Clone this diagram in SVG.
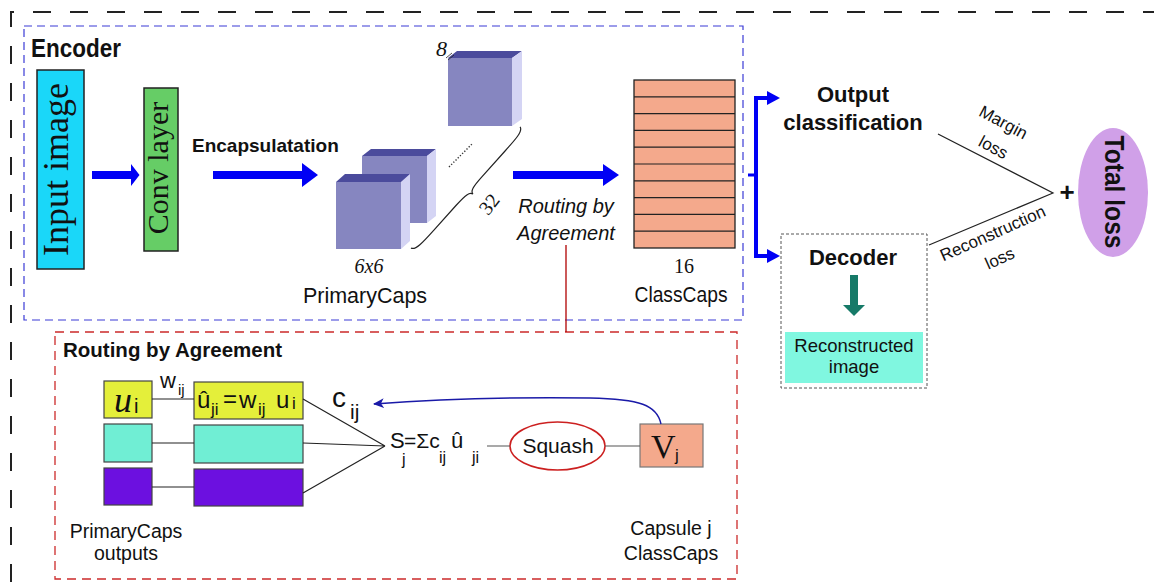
<svg xmlns="http://www.w3.org/2000/svg" width="1154" height="582" viewBox="0 0 1154 582">
<defs>
<style>
.sans{font-family:"Liberation Sans",Arial,sans-serif;fill:#111}
.bold{font-family:"Liberation Sans",Arial,sans-serif;font-weight:bold;fill:#111}
.ital{font-family:"Liberation Sans",Arial,sans-serif;font-style:italic;fill:#111}
.serif{font-family:"Liberation Serif","Times New Roman",serif;fill:#111}
.serifi{font-family:"Liberation Serif","Times New Roman",serif;font-style:italic;fill:#111}
.ln{stroke:#222;stroke-width:1.2;fill:none}
.blue{fill:#0000f5}
.box{stroke:#444;stroke-width:1.2}
.ctr{text-anchor:middle}
</style>
<marker id="bh" markerUnits="userSpaceOnUse" markerWidth="11" markerHeight="10" viewBox="0 0 11 10" refX="10" refY="5" orient="auto">
<path d="M0,0 L11,5 L0,10 L3,5 z" fill="#1a1aa8"/>
</marker>
</defs>
<rect width="1154" height="582" fill="#ffffff"/>

<!-- frames -->
<g id="frames" fill="none">
<path d="M11,582 V12 H1154" stroke="#222" stroke-width="2" stroke-dasharray="18 19"/>
<rect x="24" y="26" width="719" height="294" stroke="#3b3bd6" stroke-width="1.2" stroke-dasharray="8 5"/>
<rect x="55" y="332" width="682" height="247" stroke="#cc2a2a" stroke-width="1.3" stroke-dasharray="9 6"/>
</g>

<g id="encoder-label"><text x="31" y="57" class="bold" font-size="25" textLength="90" lengthAdjust="spacingAndGlyphs">Encoder</text></g>

<g id="input-image">
<rect x="37" y="70" width="47" height="199" fill="#1ad7f9" stroke="#222" stroke-width="1.5"/>
<text transform="translate(68,169.5) rotate(-90)" class="serif ctr" font-size="36">Input image</text>
</g>

<g id="conv-layer">
<rect x="144" y="88" width="34" height="163" fill="#66cd66" stroke="#222" stroke-width="1.5"/>
<text transform="translate(168,168) rotate(-90)" class="serif ctr" font-size="30">Conv layer</text>
</g>

<g id="encapsulation-label"><text x="192" y="152" class="bold" font-size="19">Encapsulatation</text></g>

<g id="primarycaps">
<!-- back cube -->
<polygon points="362,156 371,149 436,149 427,156" fill="#4b4b9c"/>
<polygon points="427,156 436,149 436,216 427,223" fill="#d4d4f4"/>
<rect x="362" y="156" width="65" height="67" fill="#8686c0"/>
<!-- front cube -->
<polygon points="336,182 345,174 410,174 401,182" fill="#4b4b9c"/>
<polygon points="401,182 410,174 410,241 401,249" fill="#d4d4f4"/>
<rect x="336" y="182" width="65" height="67" fill="#8686c0"/>
<!-- top cube -->
<polygon points="448,58 457,51 522,51 512,58" fill="#4b4b9c"/>
<polygon points="512,58 522,51 522,119 512,126" fill="#d4d4f4"/>
<rect x="448" y="58" width="64" height="68" fill="#8686c0"/>
<text x="436" y="56" class="serifi" font-size="22">8</text>
<path d="M446,58 L452,53 M448,60 L454,55" stroke="#222" stroke-width="0.8"/>
<path d="M449,167 L473,143" stroke="#333" stroke-width="1.4" stroke-dasharray="1.3 1.8"/>
<path transform="translate(411,248) rotate(-48)" d="M0,0 C1,5 12,5 28,5 L62,5 C76,5 81,6 81.5,10 C82,6 87,5 101,5 L135,5 C151,5 162,5 163,0" class="ln"/>
<text transform="translate(489,204) rotate(-52)" class="serif ctr" font-size="20" y="7">32</text>
<text x="369" y="273" class="serifi ctr" font-size="20">6x6</text>
<text x="365" y="303" class="sans ctr" font-size="21.5">PrimaryCaps</text>
</g>

<g id="routing-label">
<text x="566" y="213" class="ital ctr" font-size="20">Routing by</text>
<text x="566" y="240" class="ital ctr" font-size="20">Agreement</text>
</g>

<g id="classcaps">
<rect x="634" y="80" width="101" height="168" fill="#f4a98c" stroke="#222" stroke-width="1.3"/>
<path d="M634,96.8 H735 M634,113.6 H735 M634,130.4 H735 M634,147.2 H735 M634,164 H735 M634,180.8 H735 M634,197.6 H735 M634,214.4 H735 M634,231.2 H735" stroke="#222" stroke-width="1.2"/>
<text x="684" y="273" class="serif ctr" font-size="20">16</text>
<text x="681" y="302" class="sans ctr" font-size="21.5" textLength="93" lengthAdjust="spacingAndGlyphs">ClassCaps</text>
</g>

<g id="output-classification">
<text x="853" y="102" class="bold ctr" font-size="22">Output</text>
<text x="853" y="130" class="bold ctr" font-size="22">classification</text>
</g>

<g id="decoder">
<rect x="781" y="234" width="146" height="154" fill="none" stroke="#555" stroke-width="1" stroke-dasharray="3 2"/>
<text x="853" y="265" class="bold ctr" font-size="22">Decoder</text>
<rect x="850" y="275" width="8" height="31" fill="#167a68"/>
<polygon points="843,305 865,305 854,316" fill="#167a68"/>
</g>

<g id="reconstructed-image">
<rect x="785" y="332" width="138" height="51" fill="#80f7e0"/>
<text x="854" y="352" class="sans ctr" font-size="18.5">Reconstructed</text>
<text x="854" y="373" class="sans ctr" font-size="18.5">image</text>
</g>

<g id="total-loss">
<ellipse cx="1113" cy="192.5" rx="35" ry="64.5" fill="#d0a0e8"/>
<text transform="translate(1105,192) rotate(90)" class="bold ctr" font-size="27" textLength="113" lengthAdjust="spacingAndGlyphs">Total loss</text>
</g>

<g id="plus"><text x="1067" y="201" class="bold ctr" font-size="26">+</text></g>

<!-- routing detail -->
<g id="routing-title"><text x="63" y="357" class="bold" font-size="20.5">Routing by Agreement</text></g>

<g id="u-i">
<rect x="104" y="381" width="48" height="37" fill="#e4ef3a" class="box"/>
<text x="114" y="412" class="serifi" font-size="36">u</text>
<text x="134" y="413" class="sans" font-size="20">i</text>
</g>
<g id="u-hat">
<rect x="194" y="382" width="109" height="37" fill="#e4ef3a" class="box"/>
<text x="197" y="408" class="sans" font-size="24">û</text>
<text x="211" y="415" class="sans" font-size="17">ji</text>
<text x="223" y="407" class="sans" font-size="24">=</text>
<text x="239" y="408" class="sans" font-size="24">w</text>
<text x="258" y="415" class="sans" font-size="17">ij</text>
<text x="276" y="408" class="sans" font-size="24">u</text>
<text x="292" y="409" class="sans" font-size="17">i</text>
</g>
<g id="w-ij">
<text x="160" y="388" class="sans" font-size="22">w</text>
<text x="178" y="395" class="sans" font-size="15">ij</text>
</g>
<g id="row2">
<rect x="104" y="424" width="48" height="38" fill="#70eed4" class="box"/>
<rect x="194" y="425" width="109" height="38" fill="#70eed4" class="box"/>
</g>
<g id="row3">
<rect x="104" y="468" width="48" height="37" fill="#6c10e0" class="box"/>
<rect x="194" y="469" width="109" height="37" fill="#6c10e0" class="box"/>
</g>
<g id="primarycaps-outputs">
<text x="126" y="538" class="sans ctr" font-size="19.5">PrimaryCaps</text>
<text x="126" y="560" class="sans ctr" font-size="19.5">outputs</text>
</g>
<g id="c-ij">
<text x="332" y="407" class="sans" font-size="28">c</text>
<text x="350" y="419" class="sans" font-size="21">ij</text>
</g>
<g id="sum">
<text x="390" y="448" class="sans" font-size="22">S</text>
<text x="402" y="465" class="sans" font-size="16">j</text>
<text x="404" y="448" class="sans" font-size="21">=Σc</text>
<text x="439" y="463" class="sans" font-size="16">ij</text>
<text x="451" y="448" class="sans" font-size="22">û</text>
<text x="472" y="463" class="sans" font-size="16">ji</text>
</g>
<g id="squash">
<ellipse cx="557.5" cy="446" rx="47.5" ry="24" fill="#fff" stroke="#cc2020" stroke-width="1.5"/>
<text x="558" y="453" class="sans ctr" font-size="21">Squash</text>
</g>
<g id="v-j">
<rect x="640" y="424" width="63" height="43" fill="#f4a98c" stroke="#777" stroke-width="1.2"/>
<text x="651" y="458" class="serif" font-size="34">V</text>
<text x="675" y="461" class="sans" font-size="17">j</text>
</g>
<g id="capsule-j">
<text x="671" y="535" class="sans ctr" font-size="19.5">Capsule j</text>
<text x="671" y="560" class="sans ctr" font-size="19.5">ClassCaps</text>
</g>

<g id="connectors">
<polygon class="blue" points="92,171 131,171 131,164 139.5,175 131,186 131,179 92,179"/>
<polygon class="blue" points="213,171 302,171 302,163 318,175 302,187 302,179 213,179"/>
<polygon class="blue" points="513,171 603,171 603,164 619,175 603,186 603,179 513,179"/>
<path d="M769,98 H756 V256 H769" fill="none" stroke="#0000f5" stroke-width="4"/>
<path d="M748,175 H756" stroke="#0000f5" stroke-width="3"/>
<polygon class="blue" points="767,91 780,98 767,105"/>
<polygon class="blue" points="767,249 780,256 767,263"/>
<path d="M566,245 V332" stroke="#b00000" stroke-width="1.3"/>
<path d="M938,134 L1053,193 L929,245" class="ln" stroke-width="1"/>
<text transform="translate(1003,123) rotate(28)" class="sans ctr" font-size="17" y="5">Margin</text>
<text transform="translate(993,148) rotate(28)" class="sans ctr" font-size="17" y="5">loss</text>
<text transform="translate(993,234) rotate(-24)" class="sans ctr" font-size="17" y="5">Reconstruction</text>
<text transform="translate(1000,259) rotate(-24)" class="sans ctr" font-size="17" y="5">loss</text>
<path d="M152,399 H194 M152,443 H194 M152,487 H194" class="ln"/>
<path d="M303,399 L385,446 M303,443 L385,446 M303,493 L385,446" class="ln"/>
<path d="M487,446 H510 M605,446 H640" stroke="#555" stroke-width="1.2"/>
<path d="M661,424 C657,405 640,399 590,398 C520,397 440,399 374,404" fill="none" stroke="#1a1aa8" stroke-width="1.4" marker-end="url(#bh)"/>
</g>
</svg>
